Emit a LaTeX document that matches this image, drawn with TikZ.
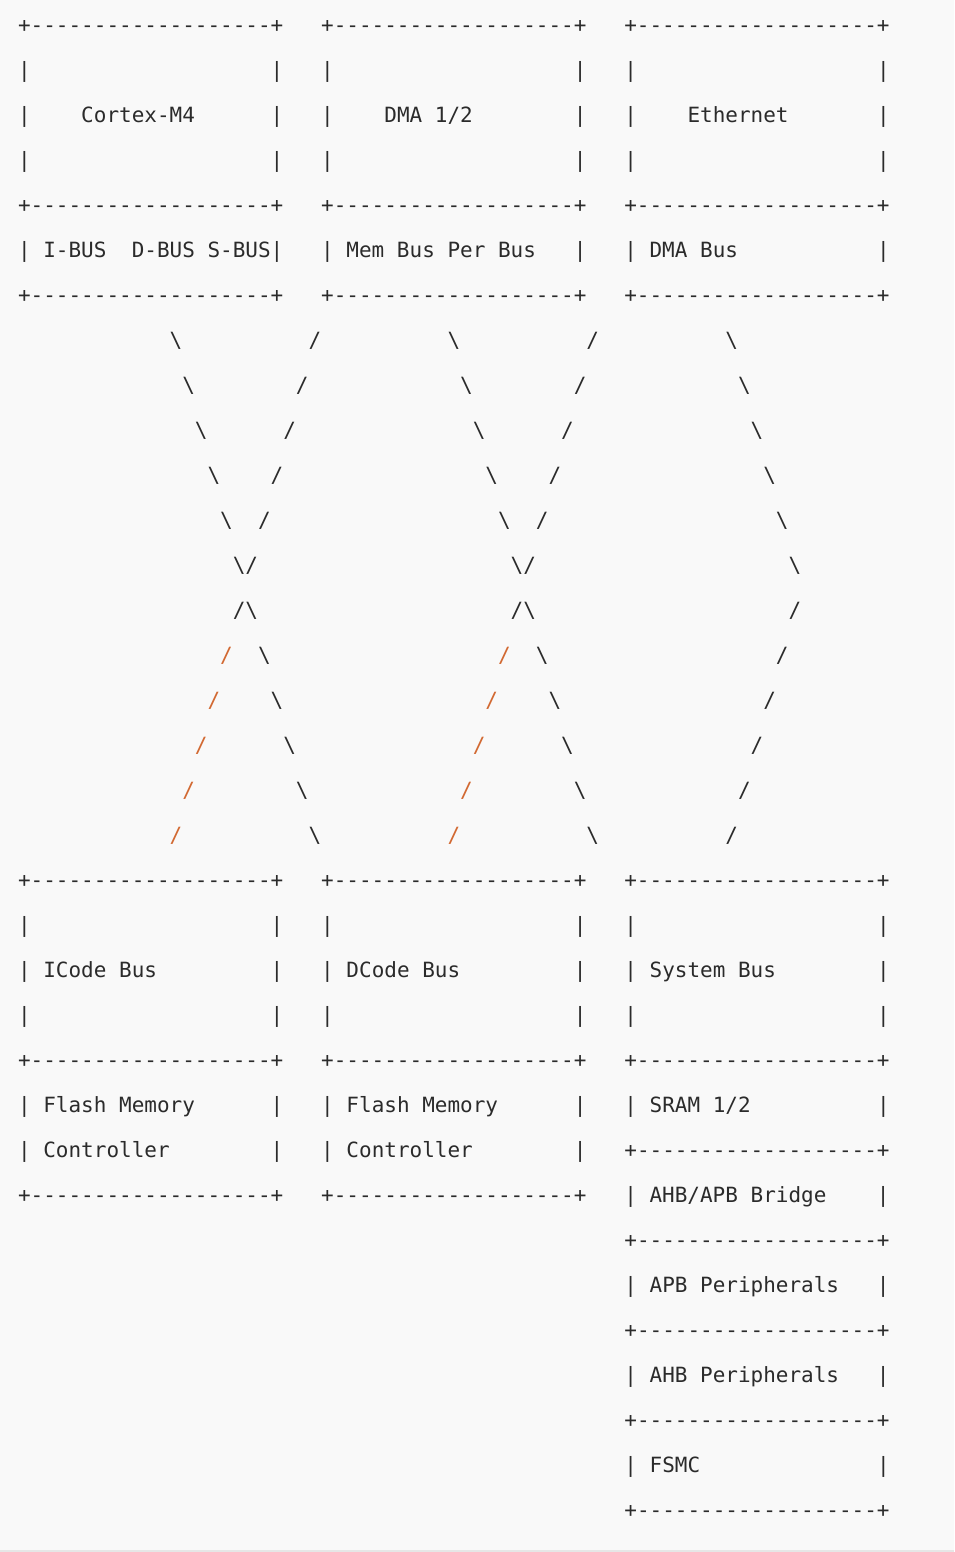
\documentclass[tikz,border=0pt]{standalone}
\usepackage{fontspec}
\usepackage{xcolor}
\usepackage{tikz}
\usetikzlibrary{positioning}

\newfontfamily\asciifont{DejaVu Sans Mono}
\definecolor{pagegray}{HTML}{F9F9F9}
\definecolor{edgegray}{HTML}{E6E6E6}
\definecolor{inkgray}{HTML}{2B2B2B}
\definecolor{hlorange}{RGB}{210,105,50}

% one character cell wide skips, and the repeated pieces of the boxes
\newcommand{\sk}[1]{\hspace*{#1\fontcharwd\font`x}}
\newcommand{\bs}{\textbackslash}
\newcommand{\os}{\textcolor{hlorange}{/}}
\newcommand{\bord}{+-------------------+}
\newcommand{\blank}{|\sk{19}|}

\tikzset{
  row/.style={anchor=base west, inner sep=0pt, text=inkgray,
    font=\asciifont\fontsize{10.49pt}{12pt}\selectfont}
}

\begin{document}
\begin{tikzpicture}[x=0.5pt, y=-0.5pt]
  \useasboundingbox (0,0) rectangle (954,1552);
  \fill[pagegray] (0,0) rectangle (954,1552);
  \fill[edgegray] (0,1550) rectangle (954,1551.5);

  % upper boxes
  \node[row] (r0) at (17.7,32.3) {\bord\sk3\bord\sk3\bord};
  \node[row] (r1) at (17.7,77.3) {\blank\sk3\blank\sk3\blank};
  \node[row] (r2) at (17.7,122.3) {|\sk4Cortex-M4\sk6|\sk3|\sk4DMA 1/2\sk8|\sk3|\sk4Ethernet\sk7|};
  \node[row] (r3) at (17.7,167.3) {\blank\sk3\blank\sk3\blank};
  \node[row] (r4) at (17.7,212.3) {\bord\sk3\bord\sk3\bord};
  \node[row] (r5) at (17.7,257.3) {| I-BUS\sk2D-BUS S-BUS|\sk3| Mem Bus Per Bus\sk3|\sk3| DMA Bus\sk{11}|};
  \node[row] (r6) at (17.7,302.3) {\bord\sk3\bord\sk3\bord};

  % crossing bus lines
  \node[row] (r7) at (17.7,347.3) {\sk{12}\bs\sk{10}/\sk{10}\bs\sk{10}/\sk{10}\bs};
  \node[row] (r8) at (17.7,392.3) {\sk{13}\bs\sk8/\sk{12}\bs\sk8/\sk{12}\bs};
  \node[row] (r9) at (17.7,437.3) {\sk{14}\bs\sk6/\sk{14}\bs\sk6/\sk{14}\bs};
  \node[row] (r10) at (17.7,482.3) {\sk{15}\bs\sk4/\sk{16}\bs\sk4/\sk{16}\bs};
  \node[row] (r11) at (17.7,527.3) {\sk{16}\bs\sk2/\sk{18}\bs\sk2/\sk{18}\bs};
  \node[row] (r12) at (17.7,572.3) {\sk{17}\bs/\sk{20}\bs/\sk{20}\bs};
  \node[row] (r13) at (17.7,617.3) {\sk{17}/\bs\sk{20}/\bs\sk{20}/};
  \node[row] (r14) at (17.7,662.3) {\sk{16}\os\sk2\bs\sk{18}\os\sk2\bs\sk{18}/};
  \node[row] (r15) at (17.7,707.3) {\sk{15}\os\sk4\bs\sk{16}\os\sk4\bs\sk{16}/};
  \node[row] (r16) at (17.7,752.3) {\sk{14}\os\sk6\bs\sk{14}\os\sk6\bs\sk{14}/};
  \node[row] (r17) at (17.7,797.3) {\sk{13}\os\sk8\bs\sk{12}\os\sk8\bs\sk{12}/};
  \node[row] (r18) at (17.7,842.3) {\sk{12}\os\sk{10}\bs\sk{10}\os\sk{10}\bs\sk{10}/};

  % lower boxes
  \node[row] (r19) at (17.7,887.3) {\bord\sk3\bord\sk3\bord};
  \node[row] (r20) at (17.7,932.3) {\blank\sk3\blank\sk3\blank};
  \node[row] (r21) at (17.7,977.3) {| ICode Bus\sk9|\sk3| DCode Bus\sk9|\sk3| System Bus\sk8|};
  \node[row] (r22) at (17.7,1022.3) {\blank\sk3\blank\sk3\blank};
  \node[row] (r23) at (17.7,1067.3) {\bord\sk3\bord\sk3\bord};
  \node[row] (r24) at (17.7,1112.3) {| Flash Memory\sk6|\sk3| Flash Memory\sk6|\sk3| SRAM 1/2\sk{10}|};
  \node[row] (r25) at (17.7,1157.3) {| Controller\sk8|\sk3| Controller\sk8|\sk3\bord};
  \node[row] (r26) at (17.7,1202.3) {\bord\sk3\bord\sk3| AHB/APB Bridge\sk4|};
  \node[row] (r27) at (17.7,1247.3) {\sk{48}\bord};
  \node[row] (r28) at (17.7,1292.3) {\sk{48}| APB Peripherals\sk3|};
  \node[row] (r29) at (17.7,1337.3) {\sk{48}\bord};
  \node[row] (r30) at (17.7,1382.3) {\sk{48}| AHB Peripherals\sk3|};
  \node[row] (r31) at (17.7,1427.3) {\sk{48}\bord};
  \node[row] (r32) at (17.7,1472.3) {\sk{48}| FSMC\sk{14}|};
  \node[row] (r33) at (17.7,1517.3) {\sk{48}\bord};
\end{tikzpicture}
\end{document}
